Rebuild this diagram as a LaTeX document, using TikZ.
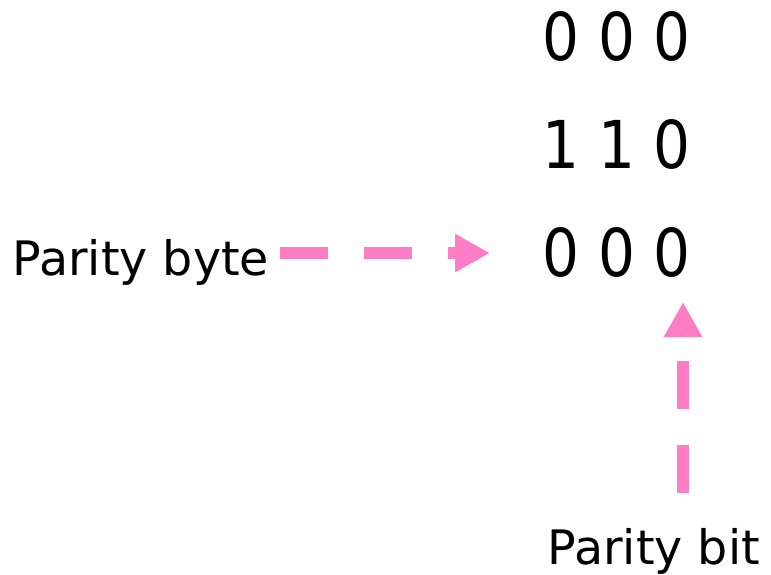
\documentclass[tikz,border=0pt]{standalone}
\usepackage{fontspec}
\setmainfont{DejaVu Sans}
\newfontfamily\digitfont[FakeStretch=0.88,WordSpace=1.0]{DejaVu Sans}
\usetikzlibrary{arrows.meta,calc}
\definecolor{pinkarrow}{HTML}{FF7DC5}
\tikzset{
  bits/.style={anchor=base west, inner sep=0pt, font=\digitfont\fontsize{66}{66}\selectfont},
  label/.style={anchor=base west, inner sep=0pt, font=\fontsize{47.5}{47.5}\selectfont},
  pointer/.style={draw=pinkarrow, line width=12pt, dash pattern=on 48pt off 36pt,
    -{Triangle[length=35pt,width=36pt,fill=pinkarrow]}}
}
\begin{document}
\begin{tikzpicture}[x=1pt,y=1pt]
  \useasboundingbox (0,0) rectangle (771,-575);
  % the three rows of bits
  \node[bits] (r1) at (542.5,-61) {0 0 0};
  \node[bits] (r2) at (542.5,-168) {1 1 0};
  \node[bits] (r3) at (542.5,-276) {0 0 0};
  % labels
  \node[label] (pb) at (12.5,-275) {Parity byte};
  \node[label] (pbit) at (547.5,-564) {Parity bit};
  % arrows from the labels to the last row
  \draw[pointer] ($(pb.base east |- 0,-253)+(11pt,0)$) -- ($(r3.base west |- 0,-253)+(-52.5pt,0)$);
  \draw[pointer] ($(pbit.base west)+(135.5pt,71pt)$) -- ($(r3.base west)+(140.5pt,-26pt)$);
\end{tikzpicture}
\end{document}
